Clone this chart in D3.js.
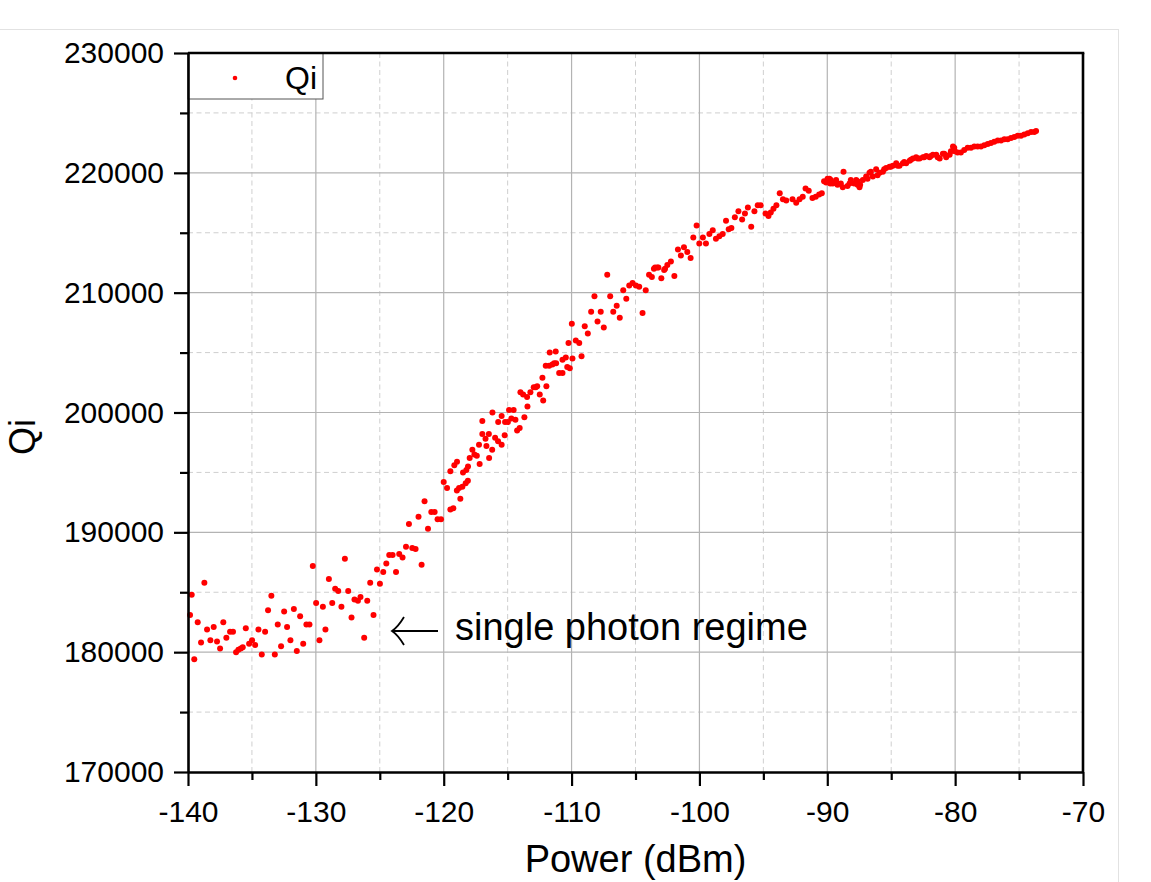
<!DOCTYPE html>
<html><head>
<meta charset="utf-8">
<script src="https://cdn.jsdelivr.net/npm/d3@7"></script>
<style>
  body { margin: 0; background: #fff; }
  text { font-family: "Liberation Sans", Arial, sans-serif; fill: #000; }
</style>
</head>
<body>
<svg id="chart" width="1151" height="882"></svg>
<script>
// Qi vs power
const power = [
  -139.84,-139.71,-139.51,-139.24,-138.98,-138.72,-138.51,-138.25,-137.99,-137.73,
  -137.49,-137.24,-137.00,-136.71,-136.48,-136.24,-136.06,-135.87,-135.72,-135.48,
  -135.22,-134.99,-134.75,-134.49,-134.23,-133.97,-133.74,-133.48,-133.21,-132.98,
  -132.72,-132.48,-132.25,-131.99,-131.72,-131.49,-131.23,-130.99,-130.74,-130.50,
  -130.24,-129.98,-129.72,-129.45,-129.25,-128.98,-128.72,-128.49,-128.25,-128.00,
  -127.73,-127.47,-127.21,-126.98,-126.71,-126.51,-126.22,-125.98,-125.75,-125.49,
  -125.22,-124.99,-124.73,-124.49,-124.26,-124.00,-123.73,-123.48,-123.22,-122.95,
  -122.72,-122.46,-122.20,-121.97,-121.73,-121.50,-121.23,-120.97,-120.71,-120.48,
  -120.21,-120.00,-119.74,-119.48,-119.48,-119.25,-119.17,-118.96,-118.97,-118.80,
  -118.70,-118.54,-118.49,-118.28,-118.23,-118.11,-118.10,-117.97,-117.76,-117.60,
  -117.41,-117.24,-117.19,-116.98,-116.98,-116.73,-116.66,-116.47,-116.45,-116.21,
  -116.19,-115.98,-115.75,-115.74,-115.47,-115.47,-115.23,-115.20,-114.98,-114.89,
  -114.71,-114.53,-114.39,-114.26,-114.06,-114.00,-113.79,-113.69,-113.48,-113.45,
  -113.22,-112.96,-112.80,-112.69,-112.49,-112.28,-112.22,-112.02,-111.97,-111.75,
  -111.71,-111.50,-111.36,-111.24,-111.21,-110.97,-110.71,-110.71,-110.45,-110.34,
  -110.24,-110.14,-109.98,-109.93,-109.67,-109.40,-109.22,-108.97,-108.73,-108.47,
  -108.21,-107.97,-107.72,-107.48,-107.21,-106.98,-106.74,-106.47,-106.23,-105.96,
  -105.72,-105.49,-105.23,-104.97,-104.71,-104.45,-104.20,-103.94,-103.72,-103.56,
  -103.47,-103.30,-103.21,-102.98,-102.76,-102.69,-102.51,-102.23,-101.96,-101.68,
  -101.45,-101.21,-100.95,-100.69,-100.48,-100.22,-100.01,-99.73,-99.49,-99.22,
  -98.96,-98.71,-98.44,-98.18,-97.92,-97.71,-97.50,-97.23,-96.95,-96.66,
  -96.44,-96.21,-95.95,-95.70,-95.44,-95.21,-94.83,-94.60,-94.42,-94.21,
  -93.98,-93.72,-93.47,-93.21,-92.72,-92.43,-92.17,-91.92,-91.70,-91.45,
  -91.16,-90.90,-90.64,-90.43,-90.25,-90.09,-89.98,-89.83,-89.73,-89.57,
  -89.47,-89.31,-89.20,-88.94,-88.73,-88.42,-88.16,-87.90,-87.63,-87.63,
  -87.43,-87.22,-86.96,-86.70,-86.44,-86.18,-85.91,-85.65,-85.40,-85.13,
  -84.87,-84.61,-84.35,-84.09,-83.83,-83.56,-83.30,-83.05,-82.78,-82.52,
  -82.26,-82.00,-81.74,-81.48,-81.21,-80.96,-80.70,-80.43,-80.17,-80.02,
  -79.81,-79.55,-79.29,-79.02,-78.76,-78.50,-78.24,-77.98,-77.72,-77.45,
  -77.20,-76.94,-76.67,-76.41,-76.15,-75.89,-75.63,-75.37,-75.11,-74.85,
  -74.59,-74.32,-74.06,-73.81,-73.67,
  -89.77,-89.31,-88.79,-88.26,-87.74,-87.48,-86.85,-86.59,-86.07,-85.55,
  -85.03,-84.50,-83.98,-83.46,-82.94,-82.42,-81.90,-81.37,-80.85,-80.33,-80.07
];
const qi = [
  183100,184800,179400,182500,180800,185800,181900,181000,182100,180900,
  180300,182500,181200,181700,181700,180000,180200,180300,180400,182000,
  180700,181000,180600,181900,179800,181700,183500,184700,179800,182300,
  180500,183400,182100,181000,183600,180100,183000,180700,182300,182300,
  187200,184100,181000,183800,181900,186100,184100,185300,185100,183800,
  187800,185100,182900,184400,184300,184600,181200,184300,185800,183100,
  186900,185700,186700,187400,188100,188100,186700,188200,187900,188800,
  190700,188700,188600,191300,187300,192600,190300,191700,191700,191100,
  191100,194200,193700,195100,191900,192000,195600,195900,193500,193700,
  192800,193800,195000,194100,195200,194300,195500,196200,196900,196500,
  196400,197300,195700,199300,198200,197800,197200,198200,196200,196900,
  200000,197900,197600,199200,199700,197300,198100,199200,199200,200200,
  199500,200200,199400,198500,198700,201700,201500,199600,201300,200500,
  201700,202100,202100,202200,201500,202900,201000,203900,202200,203900,
  205000,204000,204100,205100,204100,203300,204400,203300,204600,203800,
  205800,203700,207400,204500,206000,205800,204700,207200,206600,208400,
  209700,207600,208400,207100,211500,209700,208400,208900,207900,210200,
  209500,210600,210800,210600,210500,208300,210200,211500,211300,212000,
  212100,212100,212100,211200,211900,212000,212300,212600,211400,213600,
  213100,213800,213400,212900,214600,215600,214100,214600,214100,214900,
  215200,214500,214700,214900,216000,215300,215400,216300,216800,216100,
  216600,217100,215500,216800,217300,217300,216600,216400,216700,217000,
  217300,218300,217800,217700,217800,217500,217800,218000,218700,218500,
  217900,218000,218200,218300,219300,219200,219500,219500,219400,219100,
  219200,219200,219000,219100,220100,218900,219400,219100,219300,219000,
  219000,219400,219700,220000,219700,220300,220000,220100,220400,220500,
  220600,220800,220600,220800,220800,221000,221200,221300,221200,221300,
  221400,221300,221500,221500,221200,221600,221300,221500,222200,221800,
  221700,221700,221900,222100,222100,222200,222200,222200,222300,222400,
  222500,222600,222700,222700,222800,222800,222900,223000,223100,223100,
  223200,223300,223400,223400,223500,
  219100,219400,218800,219100,219400,218800,219500,220100,219800,220300,
  220500,220600,220900,221100,221200,221300,221400,221300,221600,221800,222100
];

const xTicks = [-140, -130, -120, -110, -100, -90, -80, -70];
const xMinor = [-135, -125, -115, -105, -95, -85, -75];
const yTicks = [170000, 180000, 190000, 200000, 210000, 220000, 230000];
const yMinor = [175000, 185000, 195000, 205000, 215000, 225000];

const svg = d3.select("#chart");
const plot = { left: 188, right: 1083, top: 53, bottom: 772 };

const x = d3.scaleLinear().domain([-140, -70]).range([plot.left, plot.right]);
const y = d3.scaleLinear().domain([170000, 230000]).range([plot.bottom, plot.top]);

// faint outer frame of the figure
svg.append("line").attr("x1", 0).attr("x2", 1118).attr("y1", 29.5).attr("y2", 29.5)
   .attr("stroke", "#e2e2e2").attr("stroke-width", 1);
svg.append("line").attr("x1", 1118.5).attr("x2", 1118.5).attr("y1", 29).attr("y2", 882)
   .attr("stroke", "#e2e2e2").attr("stroke-width", 1);

// grid
const grid = svg.append("g");
grid.selectAll("line.vminor").data(xMinor).join("line")
    .attr("class", "vminor")
    .attr("x1", d => x(d)).attr("x2", d => x(d))
    .attr("y1", plot.top).attr("y2", plot.bottom)
    .attr("stroke", "#cfcfcf").attr("stroke-dasharray", "5,3.5");
grid.selectAll("line.hminor").data(yMinor).join("line")
    .attr("class", "hminor")
    .attr("x1", plot.left).attr("x2", plot.right)
    .attr("y1", d => y(d)).attr("y2", d => y(d))
    .attr("stroke", "#cfcfcf").attr("stroke-dasharray", "5,3.5");
grid.selectAll("line.vmajor").data(xTicks.slice(1, -1)).join("line")
    .attr("class", "vmajor")
    .attr("x1", d => x(d)).attr("x2", d => x(d))
    .attr("y1", plot.top).attr("y2", plot.bottom)
    .attr("stroke", "#b3b3b3").attr("stroke-width", 1.2);
grid.selectAll("line.hmajor").data(yTicks.slice(1, -1)).join("line")
    .attr("class", "hmajor")
    .attr("x1", plot.left).attr("x2", plot.right)
    .attr("y1", d => y(d)).attr("y2", d => y(d))
    .attr("stroke", "#b3b3b3").attr("stroke-width", 1.2);

// legend box sits over the grid
svg.append("rect").attr("x", plot.left).attr("y", plot.top)
   .attr("width", 135).attr("height", 46)
   .attr("fill", "#fff").attr("stroke", "#555").attr("stroke-width", 1);
svg.append("circle").attr("cx", 235).attr("cy", 78).attr("r", 2.3).attr("fill", "#ff0000");
svg.append("text").attr("x", 285).attr("y", 89).attr("font-size", 32).text("Qi");

// points
const pts = power.map((p, i) => ({ p: p, q: qi[i] }));
svg.append("g").selectAll("circle").data(pts).join("circle")
   .attr("cx", d => x(d.p)).attr("cy", d => y(d.q))
   .attr("r", 3).attr("fill", "#ff0000");

// axes (plain hyphen minus, as in the original)
const fmt = d => String(d);
const yAxis = svg.append("g").attr("transform", `translate(${plot.left},0)`)
   .call(d3.axisLeft(y).tickValues(yTicks).tickSize(14).tickSizeOuter(0)
           .tickPadding(10).tickFormat(fmt));
const yAxisMinor = svg.append("g").attr("transform", `translate(${plot.left},0)`)
   .call(d3.axisLeft(y).tickValues(yMinor).tickSize(8).tickFormat(""));
const xAxis = svg.append("g").attr("transform", `translate(0,${plot.bottom})`)
   .call(d3.axisBottom(x).tickValues(xTicks).tickSize(14).tickSizeOuter(0)
           .tickPadding(15).tickFormat(fmt));
const xAxisMinor = svg.append("g").attr("transform", `translate(0,${plot.bottom})`)
   .call(d3.axisBottom(x).tickValues(xMinor).tickSize(8).tickFormat(""));

yAxisMinor.select(".domain").remove();
xAxisMinor.select(".domain").remove();
[yAxis, xAxis, yAxisMinor, xAxisMinor].forEach(g => {
  g.selectAll("line").attr("stroke", "#000").attr("stroke-width", 2.2);
  g.select(".domain").attr("stroke", "#000").attr("stroke-width", 2.6);
  g.selectAll("text").attr("font-size", 30).attr("font-family", "'Liberation Sans', Arial, sans-serif").attr("fill", "#000");
});

// top and right frame
svg.append("line").attr("x1", plot.left).attr("x2", plot.right + 1.3)
   .attr("y1", plot.top).attr("y2", plot.top).attr("stroke", "#000").attr("stroke-width", 2.6);
svg.append("line").attr("x1", plot.right).attr("x2", plot.right)
   .attr("y1", plot.top).attr("y2", plot.bottom).attr("stroke", "#000").attr("stroke-width", 2.6);

// axis titles
svg.append("text").attr("x", (plot.left + plot.right) / 2).attr("y", 872)
   .attr("text-anchor", "middle").attr("font-size", 38).text("Power (dBm)");
svg.append("text").attr("transform", "translate(35,437) rotate(-90)")
   .attr("text-anchor", "middle").attr("font-size", 36).text("Qi");

// annotation
svg.append("path")
   .attr("d", "M438,631 L392,631 M404,617 Q398,627 392,631 Q398,635 404,645")
   .attr("fill", "none").attr("stroke", "#000").attr("stroke-width", 1.8);
svg.append("text").attr("x", 455).attr("y", 640).attr("font-size", 38).text("single photon regime");
</script>
</body>
</html>
